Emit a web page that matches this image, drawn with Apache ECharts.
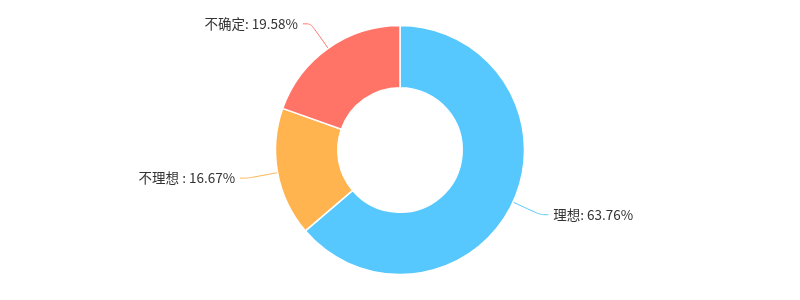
<!DOCTYPE html>
<html><head><meta charset="utf-8">
<script src="https://cdn.jsdelivr.net/npm/echarts@6/dist/echarts.min.js"></script>
<style>html,body{margin:0;padding:0;background:#fff}#c{width:800px;height:300px}</style>
</head><body><div id="c"></div>
<script>
const categories = ['理想', '不理想', '不确定'];
const values = [63.76, 16.67, 19.58];
const labelSeparators = [': ', ' : ', ': '];
const colors = ['#56C8FE', '#FFB44F', '#FF7467'];

const chart = echarts.init(document.getElementById('c'));
chart.setOption({
  animation: false,
  color: colors,
  series: [{
    type: 'pie',
    center: ['50%', '50%'],
    radius: ['41.5%', '83%'],
    startAngle: 90,
    itemStyle: { borderColor: '#fff', borderWidth: 1.5 },
    label: {
      fontFamily: '"Noto Sans CJK SC", sans-serif',
      fontSize: 13.5,
      color: '#333',
      padding: [6, 0, 0, 0],
      formatter: p => categories[p.dataIndex] + labelSeparators[p.dataIndex] + values[p.dataIndex].toFixed(2) + '%'
    },
    labelLine: { length: 30, length2: 8, smooth: true },
    data: categories.map((n, i) => ({ name: n, value: values[i] }))
  }]
});
</script></body></html>
